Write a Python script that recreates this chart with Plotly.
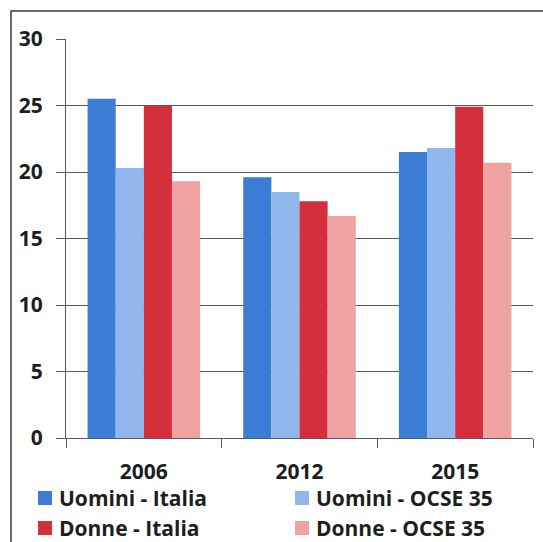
import plotly.graph_objects as go

# Categories (survey years) and series values
years = ["2006", "2012", "2015"]
uomini_italia = [25.5, 19.6, 21.5]
uomini_ocse = [20.3, 18.5, 21.8]
donne_italia = [25.0, 17.8, 24.9]
donne_ocse = [19.3, 16.7, 20.7]

series_names = ["Uomini - Italia", "Uomini - OCSE 35", "Donne - Italia", "Donne - OCSE 35"]
series_values = [uomini_italia, uomini_ocse, donne_italia, donne_ocse]
series_colors = ["#3b7dd4", "#92b7ec", "#d3303c", "#eea2a2"]

y_ticks = [0, 5, 10, 15, 20, 25, 30]

FONT = "Open Sans"
TEXT = "#1e1e1e"
GRID = "#5a5a5a"
FSIZE = 21

fig = go.Figure()
for name, vals, col in zip(series_names, series_values, series_colors):
    fig.add_trace(go.Bar(x=years, y=vals, name=name, showlegend=False,
                         marker=dict(color=col, line=dict(width=0))))

W, H = 543, 542
ml, mr, mt, mb = 66, 10, 39, 104
pw, ph = W - ml - mr, H - mt - mb


def px_to_paper_x(px):
    return (px - ml) / pw


def px_to_paper_y(py):
    return (H - mb - py) / ph


fig.update_layout(
    width=W, height=H,
    margin=dict(l=ml, r=mr, t=mt, b=mb, autoexpand=False),
    paper_bgcolor="white", plot_bgcolor="white",
    barmode="group", bargap=0.277, bargroupgap=0,
    font=dict(family=FONT, size=FSIZE, color=TEXT, weight="bold"),
    showlegend=False,
    xaxis=dict(
        type="category", tickson="boundaries", ticks="outside", ticklen=9,
        tickcolor=GRID, showline=True, linecolor=GRID, linewidth=1,
        showgrid=False, automargin=False, ticklabelstandoff=15,
        tickfont=dict(family=FONT, size=FSIZE, color=TEXT, weight="bold"),
    ),
    yaxis=dict(
        range=[0, 30], tickvals=y_ticks, ticks="outside", ticklen=9, tickcolor=GRID,
        showline=True, linecolor=GRID, linewidth=1, automargin=False,
        showgrid=True, gridcolor=GRID, gridwidth=1, zeroline=False,
        ticklabelstandoff=9,
        tickfont=dict(family=FONT, size=FSIZE, color=TEXT, weight="bold"),
    ),
)

# Outer frame around the chart
fig.add_shape(
    type="rect", xref="paper", yref="paper",
    x0=px_to_paper_x(11), x1=px_to_paper_x(560),
    y0=px_to_paper_y(560), y1=px_to_paper_y(11),
    line=dict(color="#3a3a3a", width=1.5), fillcolor="rgba(0,0,0,0)", layer="below",
)

# Two-column legend below the category labels
legend_cols = [38, 295]
legend_rows = [498, 528]
swatch = 14
for i, (name, col) in enumerate(zip(series_names, series_colors)):
    cx = legend_cols[i % 2]
    cy = legend_rows[i // 2]
    fig.add_shape(
        type="rect", xref="paper", yref="paper",
        x0=px_to_paper_x(cx), x1=px_to_paper_x(cx + swatch),
        y0=px_to_paper_y(cy + swatch / 2), y1=px_to_paper_y(cy - swatch / 2),
        line=dict(width=0), fillcolor=col,
    )
    fig.add_annotation(
        xref="paper", yref="paper", x=px_to_paper_x(cx + swatch + 5), y=px_to_paper_y(cy),
        xanchor="left", yanchor="middle", showarrow=False, text=name,
        font=dict(family=FONT, size=FSIZE, color=TEXT, weight="bold"),
    )

fig.write_html("out.html")
